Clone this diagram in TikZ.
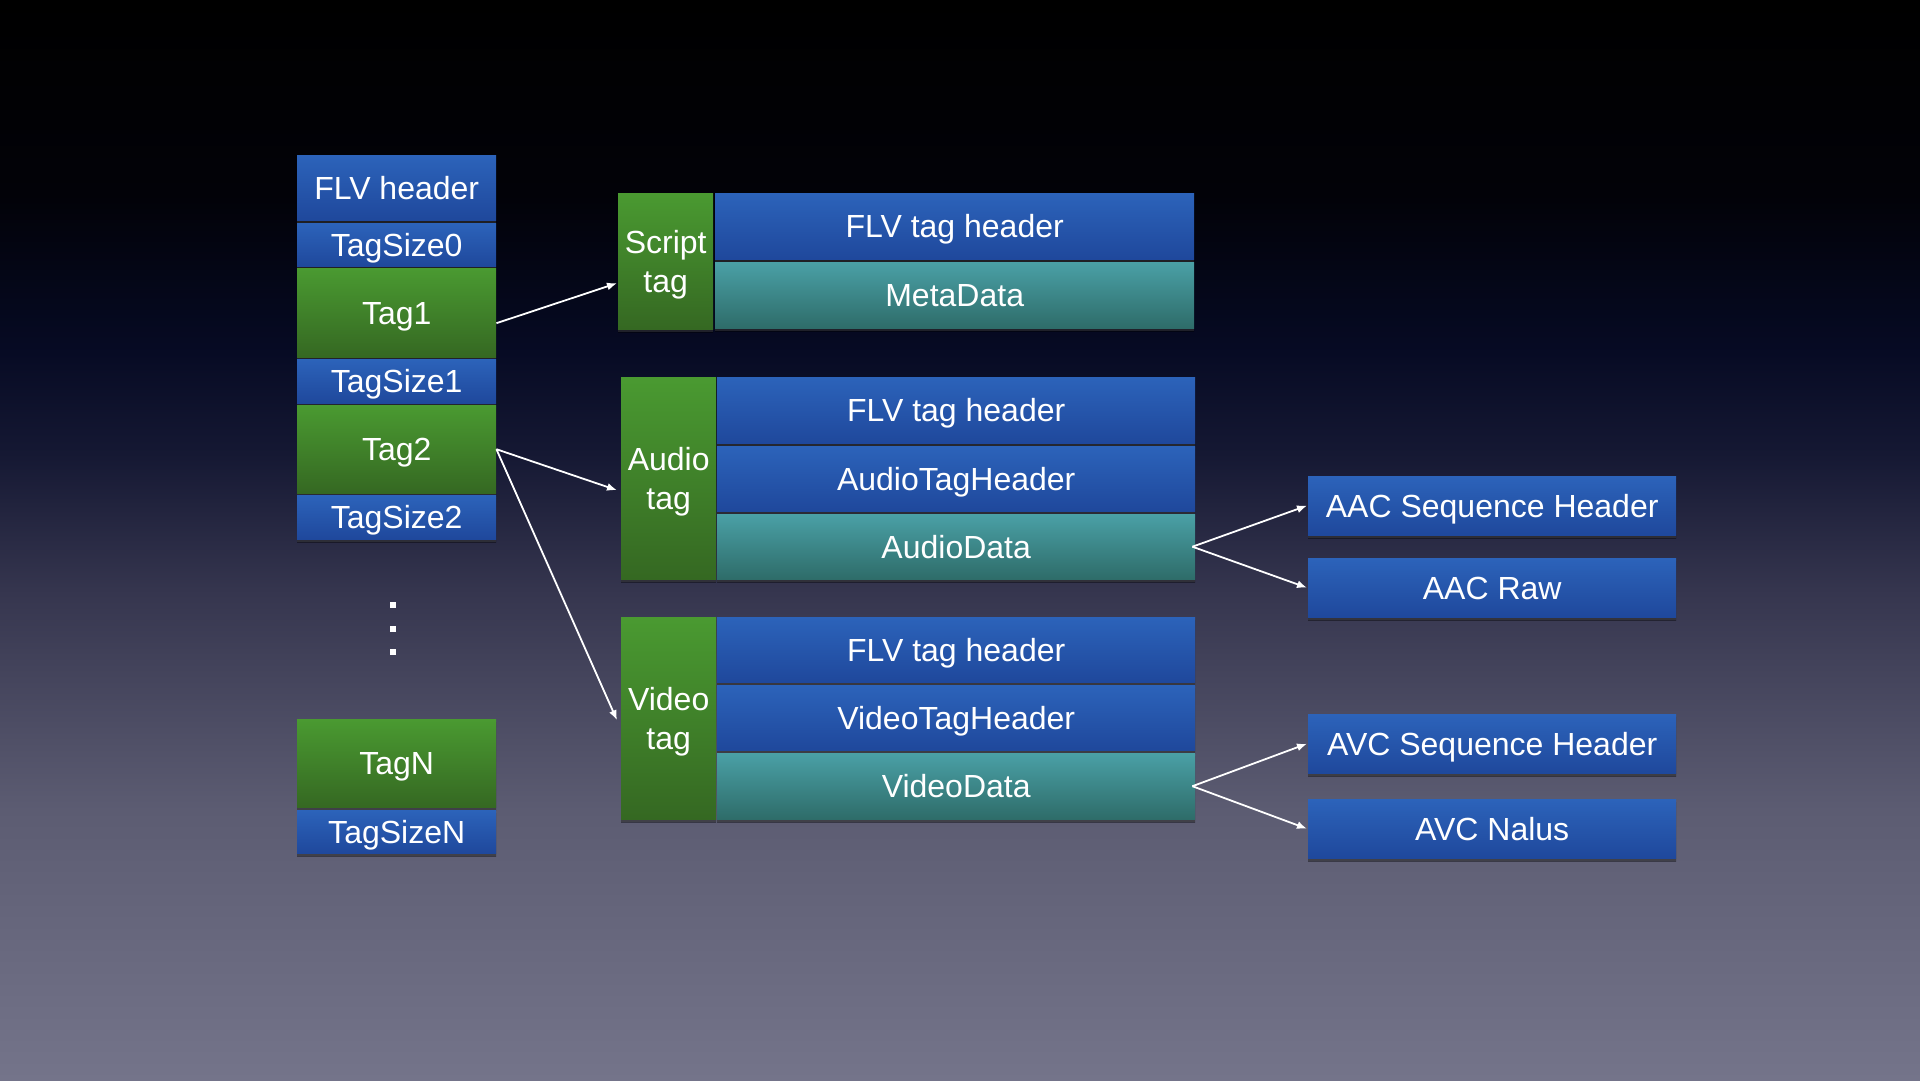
\documentclass[tikz,border=0pt]{standalone}
\usepackage{fontspec}
\setmainfont{Liberation Sans}
\usetikzlibrary{arrows.meta,shadows}
\definecolor{bluetop}{HTML}{2C63BA}
\definecolor{bluebot}{HTML}{1F489C}
\definecolor{greentop}{HTML}{4A9A31}
\definecolor{greenbot}{HTML}{356822}
\definecolor{tealtop}{HTML}{4AA0A6}
\definecolor{tealbot}{HTML}{2E6C69}
\definecolor{bga}{HTML}{74748A}
\definecolor{bgb}{HTML}{5C5C72}
\definecolor{bgc}{HTML}{36364F}
\definecolor{bgd}{HTML}{151833}
\definecolor{bge}{HTML}{060A23}
\definecolor{bgf}{HTML}{020208}
\definecolor{bgg}{HTML}{000000}
\pgfdeclareverticalshading{bgshade}{100bp}{color(0bp)=(bga); color(25bp)=(bga); color(37.5bp)=(bgb); color(47.5bp)=(bgc); color(54bp)=(bgd); color(59bp)=(bge); color(66bp)=(bgf); color(75bp)=(bgg); color(100bp)=(bgg)}
\tikzset{
  box/.style={rectangle, anchor=north west, inner sep=0pt, text=white,
    font=\fontsize{32}{39}\selectfont, align=center,
    drop shadow={shadow xshift=0pt, shadow yshift=-3pt, opacity=0.4,
      top color=black, bottom color=black}},
  one/.style={text height=23pt, text depth=0pt},
  two/.style={text height=70pt},
  bbox/.style={box, one, top color=bluetop, bottom color=bluebot},
  gbox/.style={box, top color=greentop, bottom color=greenbot},
  tbox/.style={box, one, top color=tealtop, bottom color=tealbot},
  arr/.style={draw=white, line width=1.8pt, -{Latex[length=10pt,width=8pt]}}
}
\begin{document}
\begin{tikzpicture}[x=1pt,y=-1pt]
\useasboundingbox (0,0) rectangle (1920,1080);
\shade[shading=bgshade] (0,0) rectangle (1920,1080);

% left column
\node[bbox, minimum width=199pt, minimum height=65pt] (flvh) at (297,155) {FLV header};
\node[bbox, minimum width=199pt, minimum height=43pt] (ts0) at (297,223) {TagSize0};
\node[gbox, one, minimum width=199pt, minimum height=89pt] (tag1) at (297,268) {Tag1};
\node[bbox, minimum width=199pt, minimum height=44pt] (ts1) at (297,359) {TagSize1};
\node[gbox, one, minimum width=199pt, minimum height=88pt] (tag2) at (297,405) {Tag2};
\node[bbox, minimum width=199pt, minimum height=44pt] (ts2) at (297,495) {TagSize2};
\node[gbox, one, minimum width=199pt, minimum height=88pt] (tagn) at (297,719) {TagN};
\node[bbox, minimum width=199pt, minimum height=43pt] (tsn) at (297,810) {TagSizeN};

% ellipsis dots
\fill[white] (390,602) rectangle (396,608);
\fill[white] (390,625.5) rectangle (396,631.5);
\fill[white] (390,649) rectangle (396,655);

% script tag
\node[gbox, two, minimum width=95pt, minimum height=136pt] (script) at (618,193) {Script\\tag};
\node[bbox, minimum width=479pt, minimum height=66pt] (shdr) at (715,193) {FLV tag header};
\node[tbox, minimum width=479pt, minimum height=66pt] (meta) at (715,262) {MetaData};

% audio tag
\node[gbox, two, minimum width=95pt, minimum height=202pt] (audio) at (621,377) {Audio\\tag};
\node[bbox, minimum width=478pt, minimum height=66pt] (ahdr) at (717,377) {FLV tag header};
\node[bbox, minimum width=478pt, minimum height=65pt] (ath) at (717,446) {AudioTagHeader};
\node[tbox, minimum width=478pt, minimum height=65pt] (adata) at (717,514) {AudioData};

% video tag
\node[gbox, two, minimum width=95pt, minimum height=202pt] (video) at (621,617) {Video\\tag};
\node[bbox, minimum width=478pt, minimum height=65pt] (vhdr) at (717,617) {FLV tag header};
\node[bbox, minimum width=478pt, minimum height=65pt] (vth) at (717,685) {VideoTagHeader};
\node[tbox, minimum width=478pt, minimum height=66pt] (vdata) at (717,753) {VideoData};

% right boxes
\node[bbox, minimum width=368pt, minimum height=59pt] (aacsh) at (1308,476) {AAC Sequence Header};
\node[bbox, minimum width=368pt, minimum height=59pt] (aacraw) at (1308,558) {AAC Raw};
\node[bbox, minimum width=368pt, minimum height=59pt] (avcsh) at (1308,714) {AVC Sequence Header};
\node[bbox, minimum width=368pt, minimum height=59pt] (nalus) at (1308,799) {AVC Nalus};

% connectors
\draw[arr] ([yshift=-10.5pt]tag1.east) -- ([xshift=-1pt,yshift=-22pt]script.west);
\draw[arr] (tag2.east) -- ([xshift=-4pt,yshift=-12pt]audio.west);
\draw[arr] (tag2.east) -- ([xshift=-4pt,yshift=-2pt]video.west);
\draw[arr] ([xshift=-3pt]adata.east) -- ([xshift=-1pt]aacsh.west);
\draw[arr] ([xshift=-3pt]adata.east) -- ([xshift=-1pt]aacraw.west);
\draw[arr] ([xshift=-3pt]vdata.east) -- ([xshift=-1pt]avcsh.west);
\draw[arr] ([xshift=-3pt]vdata.east) -- ([xshift=-1pt]nalus.west);
\end{tikzpicture}
\end{document}
